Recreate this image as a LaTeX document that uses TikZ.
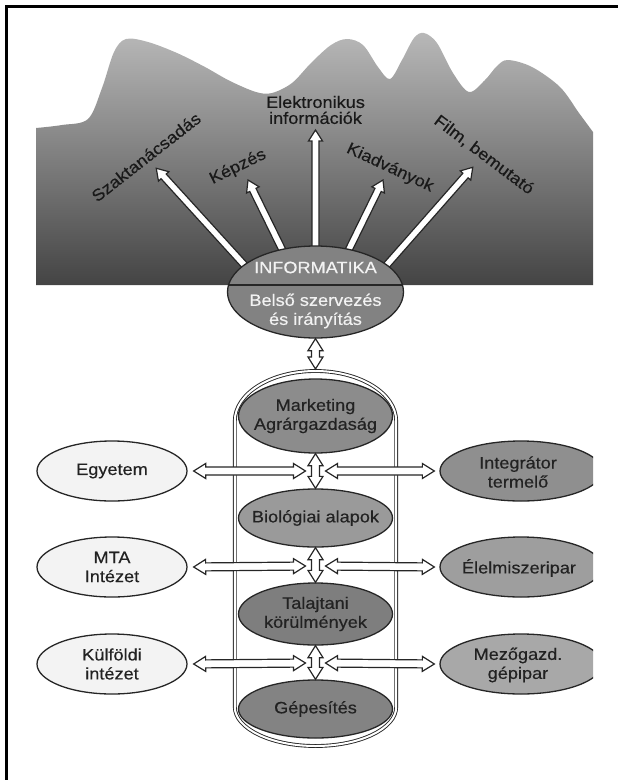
\documentclass[tikz,border=0pt]{standalone}
\usepackage{fontspec}
\setmainfont{Liberation Sans}[FakeStretch=1.1, FakeBold=0.4]
\usetikzlibrary{shapes.geometric,calc}
\pgfdeclarelayer{sky}
\pgfdeclarelayer{rays}
\pgfsetlayers{sky,rays,main}

\definecolor{ink}{HTML}{222222}
\definecolor{edge}{HTML}{262626}
\definecolor{skytop}{HTML}{B8B8B8}
\definecolor{skybot}{HTML}{444444}
\definecolor{paleoval}{HTML}{F3F3F3}
\definecolor{infofill}{HTML}{828282}
\definecolor{mktfill}{HTML}{8C8C8C}
\definecolor{biofill}{HTML}{9A9A9A}
\definecolor{talfill}{HTML}{7E7E7E}
\definecolor{gepfill}{HTML}{838383}
\definecolor{intfill}{HTML}{8F8F8F}
\definecolor{elefill}{HTML}{9E9E9E}
\definecolor{mezfill}{HTML}{A8A8A8}

\tikzset{
  hollow/.style={draw=edge, line width=1.2pt, fill=white, line join=miter},
  oval/.style={ellipse, draw=edge, line width=1.3pt, inner sep=0pt},
  txt/.style={text=ink, align=center, inner sep=0pt},
  skytxt/.style={text=black!90, inner sep=0pt},
  wtxt/.style={text=white!95!black, align=center, inner sep=0pt},
}

% hollow arrow with a head at both ends
\newcommand\twohead[2]{%
  \path[hollow] let \p1=(#1), \p2=(#2),
      \n1={atan2(\y2-\y1,\x2-\x1)}, \n2={veclen(\x2-\x1,\y2-\y1)} in
    [shift={(\p1)}, rotate=\n1]
    (0pt,0pt) -- (12pt,7.5pt) -- (12pt,4pt) -- ({\n2*1pt-12pt},4pt)
    -- ({\n2*1pt-12pt},7.5pt) -- ({\n2*1pt},0pt) -- ({\n2*1pt-12pt},-7.5pt)
    -- ({\n2*1pt-12pt},-4pt) -- (12pt,-4pt) -- (12pt,-7.5pt) -- cycle;}

% hollow arrow with one head; its tail starts under the source node
\newcommand\onehead[2]{%
  \path[hollow] let \p1=(#1), \p2=(#2),
      \n1={atan2(\y2-\y1,\x2-\x1)}, \n2={veclen(\x2-\x1,\y2-\y1)} in
    [shift={(\p1)}, rotate=\n1]
    (-14pt,3.5pt) -- ({\n2*1pt-11pt},3.5pt) -- ({\n2*1pt-11pt},7pt)
    -- ({\n2*1pt},0pt) -- ({\n2*1pt-11pt},-7pt) -- ({\n2*1pt-11pt},-3.5pt)
    -- (-14pt,-3.5pt) -- cycle;}

\begin{document}
\begin{tikzpicture}[x=1pt, y=-1pt, font=\fontsize{16.5}{19}\selectfont]
\useasboundingbox (0,0) rectangle (618,780);

% frame
\draw[line width=3pt, line join=miter] (618,6.5) -- (6.5,6.5) -- (6.5,780);

% hills with a vertical gradient
\begin{pgfonlayer}{sky}
\shade[top color=skytop, bottom color=skybot]
  (36,285) -- plot[smooth, tension=0.55] coordinates {
    (36,128) (62,125) (88,119) (102,88) (114,52) (126,39) (148,42) (177,53)
    (205,67) (230,81) (256,92) (272,93) (292,83) (311,63) (331,45) (347,39)
    (363,45) (378,67) (390,79) (402,60) (414,38) (424,33) (437,43) (453,73)
    (469,92) (485,80) (497,66) (508,60) (532,67) (560,87) (579,113) (593,132)}
  -- (593,285) -- cycle;
\end{pgfonlayer}

% central information node
\node[oval, fill=infofill, minimum width=176pt, minimum height=92pt] (info) at (315.5,292) {};
\begin{scope}
  \clip (info.center) ellipse [x radius=88pt, y radius=46pt];
  \draw[edge, line width=1.2pt] (info.west |- 0,285) -- (info.east |- 0,285);
\end{scope}
\node[wtxt] (infoA) at (315.5,267.5) {INFORMATIKA};
\node[wtxt] (infoB) at (315.5,311) {Belső szervezés\\és irányítás};

% outgoing channels
\node[skytxt, rotate=38] (szak) at (146,157) {Szaktanácsadás};
\node[skytxt, rotate=26] (kep) at (238,167) {Képzés};
\node[skytxt, align=center, font=\fontsize{16.5}{16}\selectfont] (elek) at (315.5,110) {Elektronikus\\információk};
\node[skytxt, rotate=-25] (kiad) at (390,168) {Kiadványok};
\node[skytxt, rotate=-37] (film) at (484,155) {Film, bemutató};

\coordinate (t1) at (156,168);
\coordinate (t2) at (248,180);
\coordinate (t3) at (315.5,130);
\coordinate (t4) at (383,180);
\coordinate (t5) at (473,167);

\begin{pgfonlayer}{rays}
  \onehead{info.159}{t1}
  \onehead{info.128}{t2}
  \onehead{info.90}{t3}
  \onehead{info.52}{t4}
  \onehead{info.21}{t5}
\end{pgfonlayer}

% capsule holding the core activities
\draw[edge, line width=0.9pt, double=white, double distance=2pt]
  (234.8,421) arc[start angle=180, end angle=0, x radius=80.7pt, y radius=50pt]
  -- (396.2,707) arc[start angle=0, end angle=-180, x radius=80.7pt, y radius=39pt]
  -- cycle;
\coordinate (captop) at (315.5,369);

\node[oval, fill=mktfill, minimum width=154pt, minimum height=74pt,
  label={[txt]center:Marketing\\Agrárgazdaság}] (mkt) at (315.5,416) {};
\node[oval, fill=biofill, minimum width=154pt, minimum height=58pt,
  label={[txt]center:Biológiai alapok}] (bio) at (315.5,518) {};
\node[oval, fill=talfill, minimum width=154pt, minimum height=62pt,
  label={[txt]center:Talajtani\\körülmények}] (tal) at (315.5,614) {};
\node[oval, fill=gepfill, minimum width=154pt, minimum height=58pt,
  label={[txt]center:Gépesítés}] (gep) at (315.5,709) {};

% partner institutions
\node[oval, fill=paleoval, minimum width=150pt, minimum height=60pt,
  label={[txt]center:Egyetem}] (egy) at (112,471) {};
\node[oval, fill=paleoval, minimum width=150pt, minimum height=60pt,
  label={[txt]center:MTA\\Intézet}] (mta) at (112,567) {};
\node[oval, fill=paleoval, minimum width=150pt, minimum height=60pt,
  label={[txt]center:Külföldi\\intézet}] (kul) at (112,664) {};

% industry partners
\begin{scope}
  \clip (0,0) rectangle (593,780);
  \node[oval, fill=intfill, minimum width=162pt, minimum height=60pt] (int) at (521,471) {};
  \node[oval, fill=elefill, minimum width=162pt, minimum height=60pt] (ele) at (521,567) {};
  \node[oval, fill=mezfill, minimum width=162pt, minimum height=60pt] (mez) at (521,664) {};
\end{scope}
\node[txt] (intT) at (518,472) {Integrátor\\termelő};
\node[txt] (eleT) at (519,568) {Élelmiszeripar};
\node[txt] (mezT) at (518,665) {Mezőgazd.\\gépipar};

% junctions on the central axis
\coordinate (r1) at (315.5,471);
\coordinate (r2) at (315.5,566);
\coordinate (r3) at (315.5,663);

% links
\twohead{info.south}{captop}
\twohead{mkt.south}{bio.north}
\twohead{bio.south}{tal.north}
\twohead{tal.south}{gep.north}

\twohead{[xshift=6pt]egy.east}{[xshift=-10pt]r1}
\twohead{[xshift=6pt]mta.east}{[xshift=-10pt]r2}
\twohead{[xshift=6pt]kul.east}{[xshift=-10pt]r3}
\twohead{[xshift=10pt]r1}{[xshift=-5pt]int.west}
\twohead{[xshift=10pt]r2}{[xshift=-5pt]ele.west}
\twohead{[xshift=10pt]r3}{[xshift=-5pt]mez.west}
\end{tikzpicture}
\end{document}
